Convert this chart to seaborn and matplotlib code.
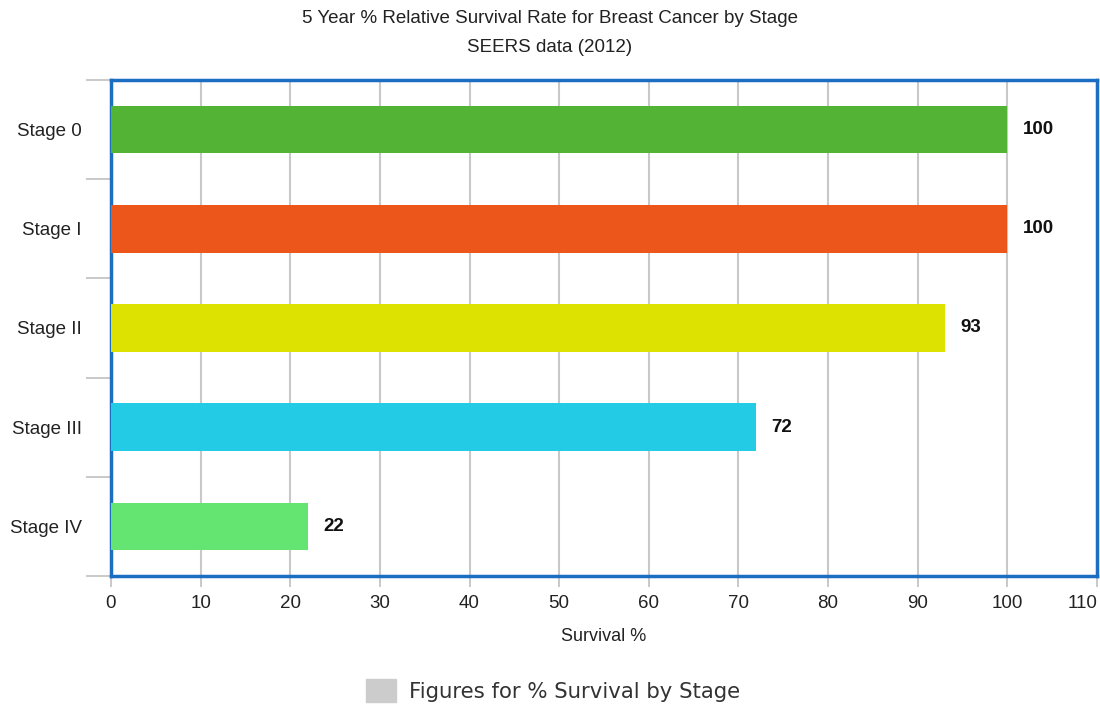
import matplotlib
matplotlib.use("Agg")
import matplotlib.pyplot as plt
import matplotlib.patches as mpatches
import seaborn as sns
import pandas as pd
import numpy as np

stages = ["Stage 0", "Stage I", "Stage II", "Stage III", "Stage IV"]
survival = [100, 100, 93, 72, 22]
colors = ["#52B335", "#EC561B", "#DDE200", "#24CBE5", "#64E572"]
x_ticks = [0, 10, 20, 30, 40, 50, 60, 70, 80, 90, 100, 110]

sns.set_theme(style="white")
plt.rcParams['font.family'] = ['Liberation Sans', 'DejaVu Sans']

df = pd.DataFrame({"Stage": stages, "Survival": survival})

fig = plt.figure(figsize=(11, 7.04), dpi=100)
ax = fig.add_axes([0.1009, 0.1818, 0.8964, 0.7046])

sns.barplot(data=df, y="Stage", x="Survival", hue="Stage", palette=colors,
            orient="h", dodge=False, legend=False, width=0.48, ax=ax,
            saturation=1, zorder=3, linewidth=0)

ax.set_xlim(0, 110)
ax.set_ylim(len(stages) - 0.5, -0.5)
ax.set_xticks(x_ticks)
ax.set_xticklabels([str(t) for t in x_ticks], fontsize=13.5, color="#222222")
xt = ax.get_xticklabels()
xt[-1].set_horizontalalignment("right")
ax.set_yticks(range(len(stages)))
ax.set_yticklabels(stages, fontsize=13.5, color="#222222")
ax.set_yticks(np.arange(-0.5, len(stages), 1.0), minor=True)
ax.tick_params(axis="y", which="major", length=0, pad=21)
ax.tick_params(axis="y", which="minor", length=18, width=1.2, color="#C0C0C0", left=True)
ax.tick_params(axis="x", which="major", length=8, width=1.2, color="#C0C0C0", bottom=True, pad=6)
for lbl in ax.get_xticklabels():
    pass
ax.get_xticklabels()[-1].set_horizontalalignment("right")
ax.get_xticklabels()[-1].set_x(110)

ax.grid(axis="x", color="#C8C8C8", linewidth=1.5, zorder=0)
ax.grid(axis="y", visible=False)
ax.set_axisbelow(True)

for s in ax.spines.values():
    s.set_visible(True)
    s.set_color("#1B6EC2")
    s.set_linewidth(2.5)

ax.set_xlabel("Survival %", fontsize=13, color="#222222", labelpad=11)
ax.set_ylabel("")

for cont in ax.containers:
    ax.bar_label(cont, fmt="%d", padding=11, fontsize=13.5, fontweight="bold", color="#111111")

fig.text(0.5, 0.974, "5 Year % Relative Survival Rate for Breast Cancer by Stage",
         ha="center", va="center", fontsize=13.5, color="#222222")
fig.text(0.5, 0.933, "SEERS data (2012)", ha="center", va="center",
         fontsize=13.5, color="#222222")

patch = mpatches.Patch(color="#CCCCCC", label="Figures for % Survival by Stage")
leg = fig.legend(handles=[patch], loc="center", bbox_to_anchor=(0.503, 0.019),
                 frameon=False, handlelength=1.4, handleheight=1.3,
                 handletextpad=0.6, prop={"family": "DejaVu Sans", "size": 15.3})
for t in leg.get_texts():
    t.set_color("#333333")

fig.savefig("out.png", dpi=100)
